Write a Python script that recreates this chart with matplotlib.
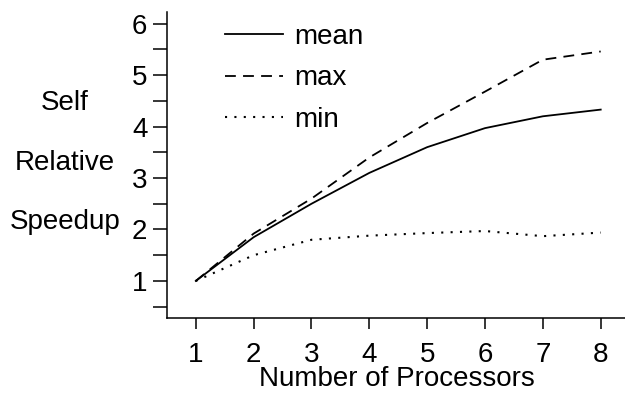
import matplotlib
matplotlib.use('Agg')
import matplotlib.pyplot as plt
from matplotlib.ticker import MultipleLocator

plt.rcParams['font.family'] = ['Liberation Sans', 'DejaVu Sans']

# data
processors = [1, 2, 3, 4, 5, 6, 7, 8]
mean_speedup = [1.0, 1.85, 2.5, 3.1, 3.6, 3.97, 4.2, 4.33]
max_speedup = [1.0, 1.92, 2.6, 3.4, 4.07, 4.68, 5.3, 5.46]
min_speedup = [1.0, 1.5, 1.8, 1.88, 1.93, 1.97, 1.87, 1.94]
ytick_vals = [1, 2, 3, 4, 5, 6]
ylabel_words = ['Self', 'Relative', 'Speedup']

FS = 20

fig = plt.figure(figsize=(6.25, 3.95), dpi=100)
ax = fig.add_axes([0.267, 0.195, 0.733, 0.775])

ax.plot(processors, mean_speedup, color='black', lw=1.3, label='mean')
ax.plot(processors, max_speedup, color='black', lw=1.3, dashes=(6, 4), label='max')
ax.plot(processors, min_speedup, color='black', lw=1.5, dashes=(1, 3.5), label='min')

ax.set_xlim(0.5, 8.42)
ax.set_ylim(0.28, 6.23)
ax.set_xticks(processors)
ax.set_yticks(ytick_vals)
ax.yaxis.set_minor_locator(MultipleLocator(0.5))
ax.tick_params(axis='both', which='both', direction='out', width=1.1, labelsize=FS)
ax.tick_params(axis='y', which='both', length=10, pad=4)
ax.tick_params(axis='x', which='major', length=8, pad=9)
ax.tick_params(axis='x', which='minor', length=0)

for side in ['top', 'right']:
    ax.spines[side].set_visible(False)
for side in ['left', 'bottom']:
    ax.spines[side].set_linewidth(1.1)

# x label placed under the axes
fig.text(397 / 625, 1 - 379 / 395, 'Number of Processors', fontsize=FS,
         ha='center', va='center')

# stacked y label words
ylab_y = [103, 163, 222]
for word, py in zip(ylabel_words, ylab_y):
    fig.text(65 / 625, 1 - py / 395, word, fontsize=FS, ha='center', va='center')

leg = ax.legend(loc='upper left', bbox_to_anchor=(225 / 625, 1 - 24 / 395),
                bbox_transform=fig.transFigure, frameon=False, fontsize=FS,
                handlelength=2.1, handletextpad=0.4, labelspacing=0.55,
                borderpad=0, borderaxespad=0)

fig.savefig('out.png', dpi=100)
